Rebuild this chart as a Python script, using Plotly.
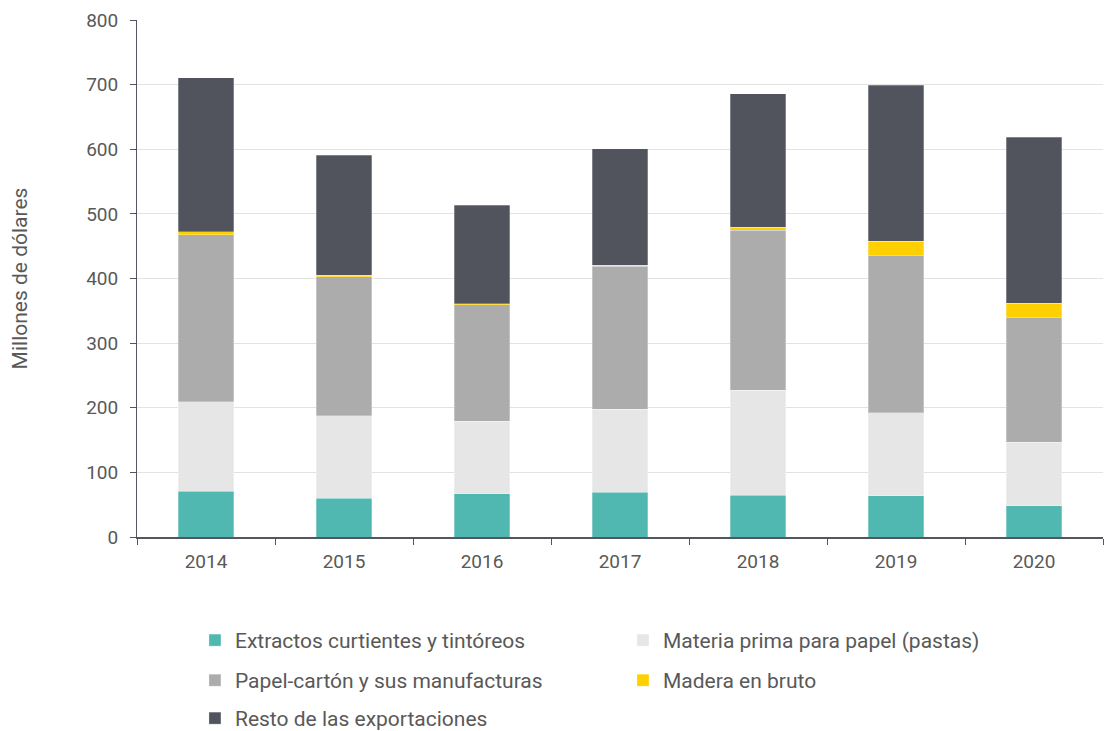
import plotly.graph_objects as go

years = ["2014", "2015", "2016", "2017", "2018", "2019", "2020"]
extractos = [70.5, 60, 67, 69.5, 64.5, 64, 48]
materia_prima = [138.5, 128, 112, 128.5, 162.5, 128, 98.5]
papel_carton = [258.5, 215, 180.5, 221, 248, 243.5, 193]
madera = [4.5, 2, 1.5, 1.5, 4.5, 22.5, 22.5]
resto = [239, 186, 152.5, 180, 206.5, 241, 256.5]

series = [
    ("Extractos curtientes y tintóreos", extractos, "#50b8b0", "legend"),
    ("Materia prima para papel (pastas)", materia_prima, "#e6e6e6", "legend"),
    ("Papel-cartón y sus manufacturas", papel_carton, "#acacac", "legend2"),
    ("Madera en bruto", madera, "#ffd000", "legend2"),
    ("Resto de las exportaciones", resto, "#51545d", "legend3"),
]

fig = go.Figure()
for name, vals, color, leg in series:
    fig.add_trace(go.Bar(
        x=years, y=vals, name=name, legend=leg,
        marker=dict(color=color, line=dict(color="rgba(255,255,255,0.35)", width=0.8)),
    ))

font_color = "#595959"
leg_common = dict(
    orientation="h", traceorder="normal",
    x=0.06, xanchor="left", yanchor="top",
    entrywidth=383, entrywidthmode="pixels",
    font=dict(size=21, color=font_color),
    itemwidth=30, bgcolor="rgba(0,0,0,0)",
)
fig.update_layout(
    width=1104, height=731,
    barmode="stack",
    bargap=0.6,
    plot_bgcolor="white", paper_bgcolor="white",
    font=dict(family="Roboto", size=20, color=font_color),
    margin=dict(l=137, r=1, t=20, b=194, autoexpand=False),
    showlegend=True,
    legend=dict(y=-0.1605, **leg_common),
    legend2=dict(y=-0.238, **leg_common),
    legend3=dict(y=-0.3114, **leg_common),
    xaxis=dict(
        showline=True, linecolor="#54565f", linewidth=2,
        ticks="outside", tickson="boundaries", ticklen=6, tickcolor="#54565f",
        tickfont=dict(size=19, color=font_color),
        ticklabelstandoff=6,
        showgrid=False,
    ),
    yaxis=dict(
        range=[0, 800], dtick=100,
        showline=True, linecolor="#54565f", linewidth=1,
        ticks="outside", ticklen=6, tickcolor="#54565f",
        gridcolor="#e3e3e3", gridwidth=1,
        tickfont=dict(size=19, color=font_color),
        ticklabelstandoff=8,
        title=dict(text="Millones de dólares", font=dict(size=21, color=font_color), standoff=52),
        zeroline=False,
    ),
)

fig.write_html("out.html", config={"displayModeBar": False},
               post_script="document.body.style.margin='0';")
